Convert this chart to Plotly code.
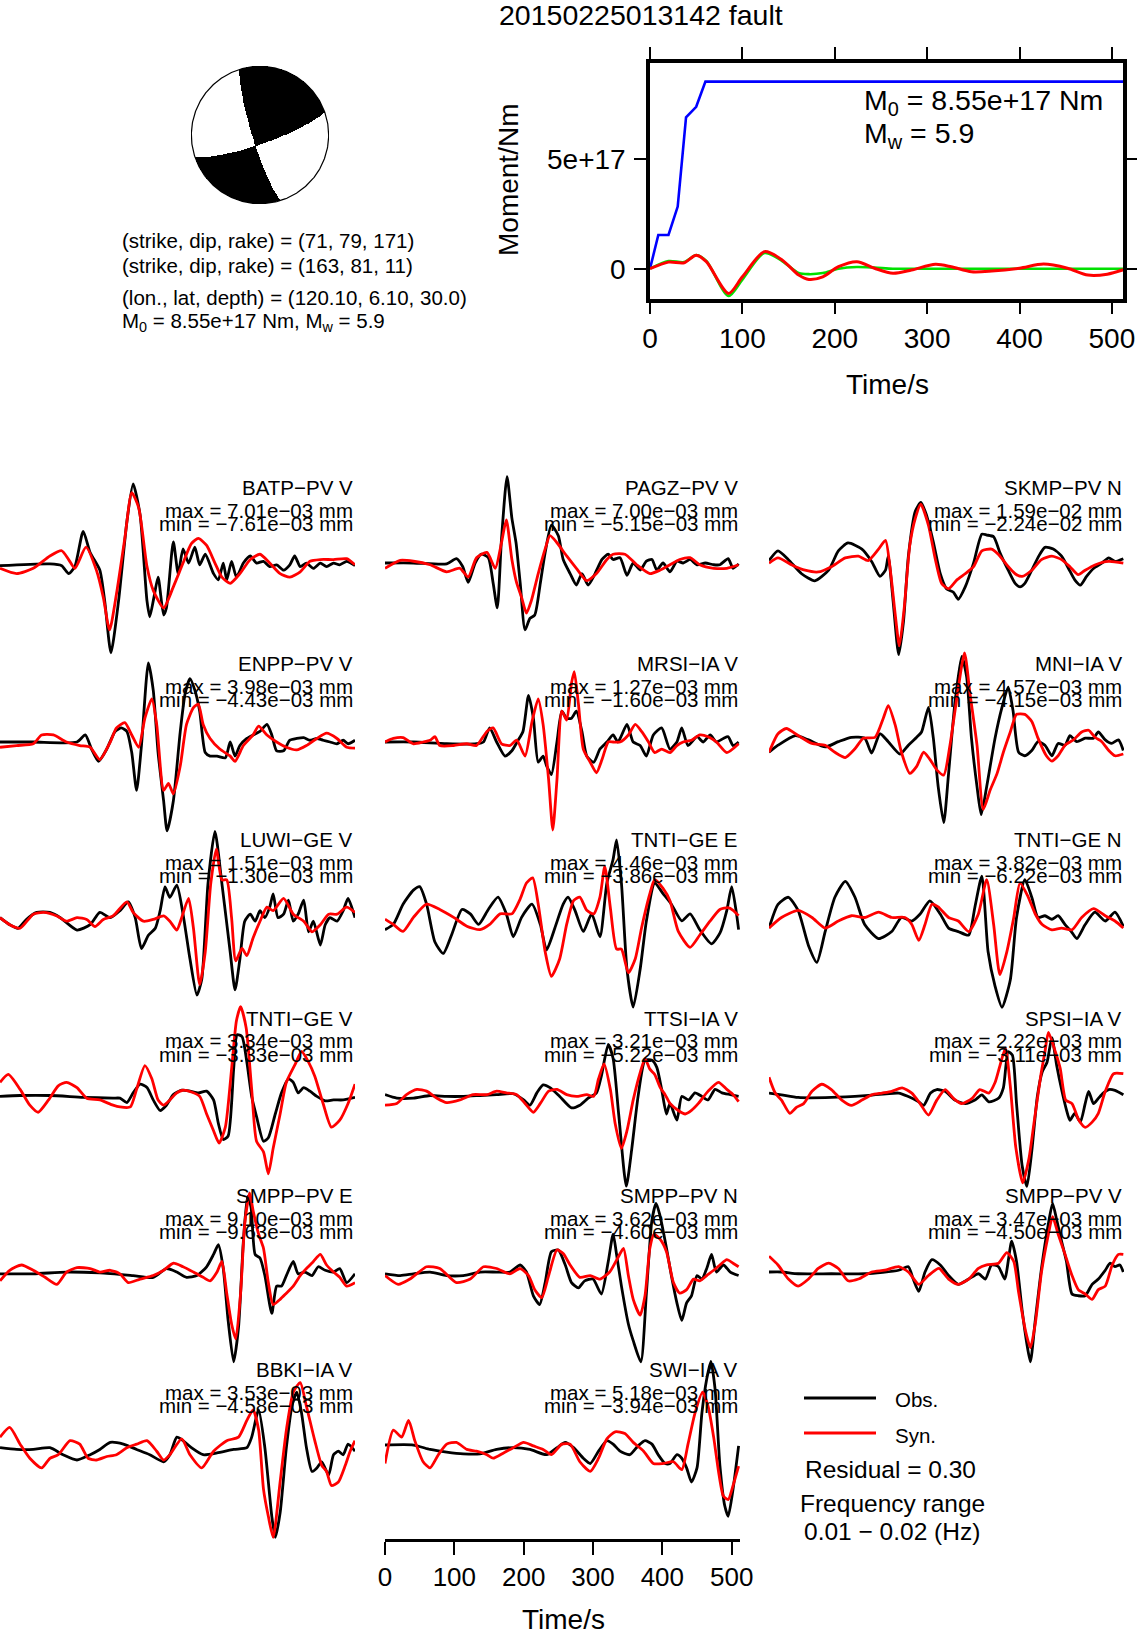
import numpy as np
import plotly.graph_objects as go

W, H = 1137, 1635
FONT = "Liberation Sans"

# ---------------- event data ----------------
event_title = "20150225013142 fault"
plane1 = [71, 79, 171]
plane2 = [163, 81, 11]
lon_lat_depth = ["120.10", "6.10", "30.0"]
m0_text = "8.55e+17"
mw_text = "5.9"
residual_text = "0.30"
freq_band = ["0.01", "0.02"]
time_ticks = [0, 100, 200, 300, 400, 500]

# cumulative moment (Nm) and moment-rate style curves
moment_t = [0, 9, 20, 30, 39, 50, 60, 512]
moment_v = [0, 1.54e17, 1.54e17, 2.84e17, 6.92e17, 7.40e17, 8.55e17, 8.55e17]
rate_red_t = [0, 20, 37, 50, 61, 85, 100, 124, 143, 161, 172, 187, 204, 224, 243, 263, 283, 309, 326, 348, 370, 400, 426, 452, 474, 495, 512]
rate_red_v = [0, 0.30e17, 0.27e17, 0.62e17, 0.32e17, -1.13e17, -0.37e17, 0.78e17, 0.40e17, -0.29e17, -0.49e17, -0.37e17, 0.09e17, 0.32e17, 0.02e17, -0.21e17, -0.06e17, 0.20e17, 0.09e17, -0.14e17, -0.11e17, 0.02e17, 0.21e17, 0.02e17, -0.29e17, -0.25e17, -0.05e17]
rate_green_t = [0, 20, 37, 50, 61, 85, 100, 124, 143, 161, 172, 187, 204, 224, 243, 263, 283, 512]
rate_green_v = [0, 0.35e17, 0.30e17, 0.62e17, 0.35e17, -1.25e17, -0.50e17, 0.72e17, 0.35e17, -0.20e17, -0.25e17, -0.20e17, 0, 0.08e17, 0.05e17, 0, 0, 0]

# ---------------- waveform data (normalised amplitude) ----------------
BATP_obs_t = [0,72,89,99,108,120,130,144,151,160,171,183,192,202,212,216,222,228,236,240,250,257,264,272,281,288,296,308,315,322,327,334,341,351,361,370,380,389,399,409,418,425,433,442,452,462,471,481,490,500,512]
BATP_obs_v = [0,0.02,0,-0.09,-0.01,0.39,0.15,-0.05,-0.40,-0.99,-0.40,0.50,0.93,0.58,-0.40,-0.58,-0.36,-0.13,-0.56,-0.48,0.27,-0.09,0.19,0.03,0.21,0.01,0.13,-0.09,-0.16,0.03,-0.16,0.05,-0.13,0.03,0.11,0.03,0.05,-0.01,0.01,-0.05,0.01,0.11,-0.01,0.03,-0.03,0.03,-0.01,0.03,0.01,0.05,0]
BATP_syn_t = [0,24,48,72,89,99,108,124,139,149,158,168,180,190,200,212,221,236,250,264,276,286,298,310,320,332,346,361,375,389,404,418,433,447,462,481,500,512]
BATP_syn_v = [-0.03,-0.09,-0.03,0.11,0.17,0.07,-0.03,0.21,-0.05,-0.36,-0.73,-0.32,0.31,0.83,0.66,-0.01,-0.28,-0.48,-0.24,0.03,0.25,0.31,0.23,0.03,-0.13,-0.20,-0.09,0.07,0.13,0.03,-0.09,-0.13,-0.07,0.05,0.07,0.07,0.08,0.01]

PAGZ_obs_t = [0,41,89,103,112,120,130,139,149,156,162,168,176,183,189,195,202,209,216,224,231,240,250,257,267,276,284,293,303,313,322,329,339,349,358,368,377,385,392,401,411,421,430,440,450,462,474,483,495,502,510]
PAGZ_obs_v = [0,0,-0.01,0.05,-0.04,-0.22,0,0.10,0.06,-0.23,-0.51,0.27,0.98,0.51,0.23,-0.23,-0.76,-0.63,-0.59,-0.23,0.12,0.43,0.31,0.04,-0.12,-0.25,-0.12,-0.25,-0.12,0.04,0.10,0.04,0.06,-0.14,0,-0.08,0.02,0.04,-0.08,0,-0.10,0.02,0,0.04,-0.02,0,-0.02,-0.02,0.05,-0.06,-0.01]
PAGZ_syn_t = [0,22,41,65,89,108,120,132,147,159,168,175,183,190,197,204,211,221,231,238,248,262,276,291,305,320,329,346,363,382,397,411,425,440,454,474,493,510]
PAGZ_syn_v = [-0.06,0.03,0.02,-0.02,-0.10,-0.06,-0.16,0.06,0.12,-0.06,0.23,0.49,0.04,-0.23,-0.39,-0.57,-0.43,-0.12,0.16,0.31,0.23,0.08,-0.06,-0.20,-0.12,0.04,0.10,0.10,-0.02,-0.12,-0.08,-0.02,0.04,0.06,-0.02,-0.06,-0.06,-0.02]

SKMP_obs_t = [0,13,28,47,66,86,100,114,134,148,160,168,172,179,187,194,201,211,219,227,237,247,256,266,273,283,295,307,314,324,333,345,355,362,369,379,389,398,410,422,432,441,449,458,468,480,490,499,511]
SKMP_obs_v = [0.02,0.13,0.03,-0.13,-0.21,-0.09,0.13,0.22,0.15,0.01,-0.16,-0.09,0.07,-0.44,-1.05,-0.67,0.07,0.58,0.68,0.54,0.23,-0.13,-0.30,-0.34,-0.42,-0.28,-0.01,0.32,0.31,0.29,0.11,-0.09,-0.24,-0.28,-0.24,-0.09,0.07,0.17,0.15,0.07,-0.07,-0.20,-0.26,-0.16,-0.07,-0.01,0.05,0.01,0.04]
SKMP_syn_t = [0,13,33,52,71,90,110,129,143,158,168,175,182,188,195,203,211,219,230,240,249,259,271,283,295,307,321,331,343,355,365,379,393,408,422,434,446,456,470,490,511]
SKMP_syn_v = [-0.01,0.05,-0.03,-0.09,-0.11,-0.05,0.05,0.07,0.02,0.15,0.25,-0.09,-0.59,-0.95,-0.52,0.19,0.50,0.66,0.42,0.03,-0.24,-0.30,-0.20,-0.13,-0.05,0.13,0.15,0.09,-0.03,-0.13,-0.16,-0.09,0.03,0.07,0.03,-0.05,-0.14,-0.09,-0.03,0.01,-0.01]

ENPP_obs_t = [0,48,111,123,132,142,154,166,175,183,190,197,204,214,221,228,236,241,250,260,267,274,281,288,296,303,313,325,332,339,346,356,365,375,385,392,399,409,418,428,438,447,457,466,476,486,495,502,512]
ENPP_obs_v = [0,0,0,0.08,-0.08,-0.22,-0.08,0.12,0.16,0.12,-0.12,-0.55,-0.04,0.90,0.59,-0.12,-0.67,-1.01,-0.67,0.12,0.55,0.72,0.59,0.35,-0.12,-0.16,-0.16,-0.18,0,-0.16,-0.04,0.04,0.08,0.12,0.20,0.08,-0.10,-0.10,0.02,0.04,0.05,0.02,0.04,0.02,0,-0.02,0.02,-0.02,0.02]
ENPP_syn_t = [0,24,48,60,77,96,115,130,144,159,168,180,190,200,209,219,226,236,243,250,260,269,279,286,293,303,317,332,339,351,365,373,385,399,413,428,442,457,471,486,500,512]
ENPP_syn_v = [-0.06,-0.04,-0.02,0.08,0.08,0,-0.04,-0.06,-0.20,0,0.16,0.22,0.08,-0.06,0.27,0.49,0.20,-0.55,-0.47,-0.59,-0.27,0.20,0.39,0.43,0.20,0.04,-0.08,-0.16,-0.22,-0.04,0.08,0.18,0.08,0,-0.06,-0.09,-0.04,0.04,0.10,0.04,-0.06,-0.07]

MRSI_obs_t = [0,41,89,132,142,151,161,173,183,192,199,207,214,221,228,233,240,248,255,262,269,276,284,291,301,310,320,329,336,349,358,368,377,387,399,411,421,428,437,450,459,469,478,488,495,502,510]
MRSI_obs_v = [0,0,-0.02,-0.02,0,0.16,0,-0.16,-0.10,0.02,0.12,0.53,0.27,-0.23,-0.16,-0.27,-0.37,0,0.35,0.27,0.27,0.35,0.12,-0.16,-0.23,-0.08,0,0.08,0,0.20,0,-0.04,-0.16,0.08,0.16,-0.08,0,0.16,-0.04,0.06,0,0.08,0,0.04,0.06,-0.04,0]
MRSI_syn_t = [0,12,26,41,55,65,72,79,99,118,132,147,156,168,180,190,202,212,221,228,236,242,248,255,262,269,273,279,286,296,305,313,322,329,339,351,361,370,380,389,399,411,421,430,442,454,466,478,493,510]
MRSI_syn_v = [0,0.04,0.05,-0.02,0,0.02,0.06,-0.04,-0.04,-0.02,-0.04,0.12,0.16,-0.02,-0.04,0.02,-0.16,0.23,0.49,0.20,-0.43,-1.00,-0.43,0.35,0.25,0.67,0.80,0.43,-0.08,-0.23,-0.35,-0.20,0,0,0,0.08,0.20,0.12,0,-0.12,-0.08,-0.12,-0.04,0,0.02,0.08,0.06,0,-0.12,-0.02]

MNI_obs_t = [0,13,38,57,81,100,119,138,148,160,172,189,201,213,220,230,237,244,252,259,268,278,285,292,300,306,314,326,336,345,352,360,369,379,388,398,408,417,427,434,444,456,468,475,485,494,504,511]
MNI_obs_v = [-0.03,0.05,0.16,0.11,0.03,0.09,0.14,0.13,-0.04,0.18,0.09,-0.05,0.05,0.14,0.20,0.48,0.13,-0.42,-0.83,-0.27,0.52,1.06,0.83,0.13,-0.42,-0.74,-0.42,0.13,0.48,0.71,0.44,-0.03,-0.07,-0.01,0.09,0.05,-0.07,0.07,0.05,0.16,0.09,0.13,0.13,0.20,0.11,0.07,0.11,-0.01]
MNI_syn_t = [0,13,25,42,62,81,95,110,124,136,153,165,172,182,191,203,213,223,232,242,252,261,271,282,290,300,309,319,329,338,348,357,369,379,388,400,408,417,427,439,451,461,470,480,490,499,511]
MNI_syn_v = [-0.03,0.18,0.24,0.16,0.07,0.05,-0.03,-0.09,0.01,0.13,0.14,0.36,0.50,0.28,-0.03,-0.27,-0.19,-0.03,-0.11,-0.23,-0.29,0.05,0.59,1.10,0.63,0.05,-0.68,-0.46,-0.27,-0.03,0.20,0.40,0.40,0.32,0.13,-0.07,-0.13,-0.07,0.05,0.11,0.20,0.22,0.14,0.09,-0.01,-0.07,-0.05]

LUWI_obs_t = [0,14,26,38,53,72,87,111,130,144,159,173,185,195,204,214,224,231,238,245,255,264,274,284,291,300,310,320,332,339,346,353,361,368,375,382,389,394,401,409,416,423,430,438,445,452,462,469,476,486,495,502,512]
LUWI_obs_v = [0,-0.08,-0.12,-0.02,0.06,0.06,0,-0.14,-0.08,0.06,0,0.08,0.18,0,-0.35,-0.20,-0.12,0.08,0.35,0.23,0.37,0.04,-0.47,-0.88,-0.70,0.39,0.98,0.39,-0.39,-0.82,-0.47,-0.04,0.04,-0.04,0.08,0,0.12,0.27,0,0.04,0.20,-0.04,0.04,0.20,-0.16,-0.04,-0.31,-0.08,0,-0.04,0.08,0.22,0]
LUWI_syn_t = [0,14,29,48,63,82,96,111,125,137,149,163,183,192,207,221,236,245,255,262,272,279,288,296,304,312,320,327,334,340,349,356,365,375,385,394,409,423,438,450,462,474,486,500,512]
LUWI_syn_v = [0,-0.08,-0.12,0.04,0.06,0.02,-0.04,0,-0.02,-0.10,-0.02,0.02,0.18,0.06,-0.04,-0.02,0.02,-0.04,-0.14,0,0.22,-0.12,-0.76,-0.39,0.39,0.78,0.43,0.43,0,-0.49,-0.35,-0.43,-0.23,-0.04,0.12,0.08,0.22,0.04,-0.04,-0.16,-0.08,0.04,0.04,0.12,0.06]

TNTIE_obs_t = [0,12,26,41,50,60,72,84,96,111,123,135,149,163,175,185,197,212,224,233,245,257,264,274,286,298,310,320,329,334,341,349,358,368,377,389,401,413,428,440,454,471,483,493,500,507,510]
TNTIE_obs_v = [0,0.06,0.29,0.45,0.49,0.29,-0.14,-0.27,-0.06,0.23,0.18,0.06,0.23,0.37,0.18,-0.08,0.14,0.29,0.06,-0.23,0.02,0.29,0.37,0.22,-0.02,0.18,-0.08,0.53,0.80,1.02,0.53,-0.45,-0.88,-0.45,0.10,0.53,0.41,0.29,0.10,0.18,0,-0.16,-0.04,0.22,0.49,0.18,0]
TNTIE_syn_t = [0,12,26,41,60,79,99,118,137,151,166,183,195,204,213,221,231,240,252,262,272,281,291,301,310,317,325,334,341,351,361,370,382,389,401,411,423,440,454,469,483,495,502,510]
TNTIE_syn_v = [0.12,0.06,-0.02,0.14,0.29,0.23,0.14,0.04,0,0.06,0.18,0.18,0.35,0.53,0.59,0.29,-0.25,-0.53,-0.33,0.06,0.33,0.37,0.22,0.18,0.37,0.72,0.25,-0.22,-0.22,-0.49,-0.33,0.02,0.41,0.57,0.47,0.33,-0.02,-0.20,-0.06,0.10,0.23,0.25,0.22,0.16]

TNTIN_obs_t = [0,13,28,42,57,69,81,95,110,124,138,158,177,191,206,218,232,247,259,273,288,297,307,316,326,336,348,357,369,379,388,398,408,417,427,436,444,456,470,485,499,511]
TNTIN_obs_v = [-0.02,0.25,0.33,0.18,-0.22,-0.41,-0.06,0.33,0.51,0.33,0.02,-0.14,-0.06,0.10,0.06,0.14,0.29,0.14,-0.02,-0.06,-0.10,0.22,0.57,-0.29,-0.68,-0.92,-0.61,0.10,0.53,0.33,0.10,0.12,0.08,0.12,0.02,-0.06,-0.14,0.02,0.16,0.06,0.16,0]
TNTIN_syn_t = [0,18,42,62,81,100,119,138,158,177,196,206,216,225,235,244,259,273,288,302,314,324,333,343,353,362,374,384,394,408,422,437,451,468,485,499,511]
TNTIN_syn_v = [-0.02,0.10,0.18,0.10,-0.02,0.06,0.12,0.10,0.16,0.10,0.10,0.02,-0.16,0.02,0.25,0.22,0.10,0.06,-0.06,0.14,0.53,0.02,-0.55,-0.29,0.10,0.49,0.33,0.14,0.02,-0.04,-0.02,-0.04,0.10,0.20,0.12,0.06,-0.02]

TNTIV_obs_t = [0,29,72,120,163,173,183,192,202,212,221,231,240,250,262,274,286,298,308,315,322,329,337,342,349,356,363,370,380,387,397,406,416,423,430,438,447,457,469,481,495,512]
TNTIV_obs_v = [0,0.01,0.01,-0.01,-0.02,-0.02,-0.07,0.04,0.14,0.10,-0.04,-0.16,-0.10,0.02,0.07,0.06,0.04,0.06,-0.04,-0.31,-0.49,-0.45,0.31,0.70,0.68,0.39,0,-0.23,-0.51,-0.47,-0.20,0.04,0.20,0.16,0.04,0.10,0.06,0,-0.05,-0.04,-0.04,-0.01]
TNTIV_syn_t = [0,12,29,43,55,70,84,96,111,125,144,163,173,188,197,209,219,228,236,245,255,264,276,288,298,308,316,325,334,341,347,355,363,370,380,387,394,404,413,426,435,445,454,466,478,490,502,512]
TNTIV_syn_v = [0.16,0.25,0.08,-0.10,-0.18,-0.04,0.12,0.16,0.10,-0.02,-0.04,-0.10,-0.12,-0.12,0.08,0.35,0.20,-0.04,-0.10,-0.04,0.04,0.07,0.05,0,-0.20,-0.39,-0.53,-0.35,0.31,0.86,1.02,0.78,0.08,-0.51,-0.63,-0.88,-0.59,-0.20,0.16,0.37,0.51,0.39,0.23,-0.08,-0.35,-0.27,-0.08,0.14]

TTSI_obs_t = [0,17,41,65,89,113,137,161,185,200,209,219,228,238,252,269,281,293,305,312,322,329,337,348,356,365,375,385,392,399,406,411,421,428,438,447,457,466,476,486,498,510]
TTSI_obs_v = [0.02,-0.02,-0.02,0.01,0,0,0.01,0.02,0.03,-0.04,-0.10,0.04,0.13,0.10,0,-0.13,-0.10,-0.02,0.04,0.23,0.59,0.43,-0.20,-1.02,-0.59,0,0.41,0.41,0.33,0.08,-0.20,-0.08,-0.27,0,-0.04,0.04,0,-0.04,0.08,0.04,0.02,0]
TTSI_syn_t = [0,17,31,46,60,75,89,108,127,147,161,175,190,202,214,224,236,248,262,276,291,301,308,316,325,332,341,349,358,368,375,382,389,397,404,411,423,433,442,452,466,481,493,502,510]
TTSI_syn_v = [-0.10,-0.08,0.02,0.08,0.06,-0.02,-0.07,-0.04,0.02,0.02,0.06,0.04,0.02,-0.08,-0.18,-0.08,0.06,0.08,0.02,0,0.02,0,0.20,0.37,0.08,-0.31,-0.59,-0.39,-0.04,0.27,0.43,0.31,0.25,0.10,0.02,-0.08,-0.16,-0.20,-0.16,-0.08,0.06,0.16,0.08,0.02,-0.06]

SPSI_obs_t = [0,18,42,90,139,187,201,216,223,233,242,254,268,283,297,307,317,331,338,345,351,357,365,372,379,387,394,401,408,415,422,429,434,441,449,456,461,468,475,482,490,499,511]
SPSI_obs_v = [0.03,0.01,-0.02,-0.02,0,0.03,-0.01,-0.07,-0.11,0.03,0.07,0.05,-0.05,-0.09,-0.05,0.01,-0.07,-0.03,0.09,0.50,0.46,-0.09,-0.79,-1.03,-0.63,-0.01,0.27,0.38,0.66,0.34,0.07,-0.16,-0.28,-0.20,-0.30,-0.09,0.05,-0.09,-0.03,0.03,0.07,0.06,0.01]
SPSI_syn_t = [0,9,18,30,40,50,62,76,90,105,119,134,148,163,177,192,206,218,230,242,254,266,278,293,304,317,326,333,341,348,356,366,375,382,392,398,403,413,420,428,437,447,456,466,475,485,497,511]
SPSI_syn_v = [0.21,0.03,-0.05,-0.20,-0.13,-0.09,0.05,0.13,0.07,-0.05,-0.11,-0.05,0.01,0.03,0.05,0.09,0.03,-0.09,-0.22,-0.05,0.07,-0.03,-0.09,-0.03,0.07,0.03,0.15,0.34,0.54,0.11,-0.59,-0.99,-0.71,-0.32,0.23,0.50,0.72,0.50,0.31,-0.05,-0.09,-0.28,-0.36,-0.30,-0.20,0.05,0.25,0.25]

SMPPE_obs_t = [0,48,96,144,192,221,240,255,269,284,298,308,315,322,329,337,344,351,357,362,368,375,382,392,399,406,413,423,430,440,450,459,469,481,490,500,512]
SMPPE_obs_v = [0,0,0.02,0.01,-0.02,-0.04,0.06,0.02,-0.04,-0.02,0.08,0.22,0.33,0.06,-0.53,-1.00,-0.61,0.37,0.88,0.76,0.22,0.18,-0.02,-0.45,-0.14,-0.14,-0.02,0.14,0,0.02,-0.02,0.08,0.04,0.02,0.06,-0.10,0]
SMPPE_syn_t = [0,14,31,48,65,82,96,111,130,144,159,173,185,202,221,236,250,264,279,293,303,313,320,327,334,340,347,353,360,365,373,380,387,394,404,413,423,433,442,452,462,471,481,490,500,512]
SMPPE_syn_v = [-0.08,0.04,0.10,0.04,-0.04,-0.12,0.02,0.07,0.06,0.02,0.04,0,-0.10,-0.06,-0.02,0.04,0.12,0.08,0.02,-0.04,-0.08,0.02,0.14,-0.22,-0.57,-0.74,-0.22,0.57,0.92,0.72,0.45,0.29,-0.10,-0.35,-0.29,-0.22,-0.14,-0.02,0.06,0.14,0.22,0.10,0.02,-0.04,-0.14,-0.10]

SMPPN_obs_t = [0,22,41,65,89,113,137,161,180,195,204,214,223,231,240,250,260,269,279,288,300,312,322,329,334,341,351,358,369,377,385,391,396,406,413,421,428,435,442,450,457,464,471,478,488,498,510]
SMPPN_obs_v = [0,-0.02,0,0.02,-0.02,-0.02,0.02,0.02,0.02,0.10,0.02,-0.25,-0.35,-0.10,0.25,0.27,0.10,-0.10,-0.16,-0.08,-0.06,-0.23,0.14,0.45,0.22,-0.14,-0.57,-0.76,-1.00,-0.22,0.61,0.80,0.68,0.29,-0.02,-0.33,-0.53,-0.33,-0.25,-0.02,-0.06,0.06,0.22,0.02,0.10,0.02,-0.02]
SMPPN_syn_t = [0,19,36,60,79,103,123,142,161,180,195,207,216,226,236,248,257,267,281,296,310,324,337,344,351,358,368,375,382,388,397,406,416,425,435,445,454,464,474,483,493,502,510]
SMPPN_syn_v = [-0.02,-0.12,-0.06,0.08,0.06,-0.10,-0.06,0.08,0.06,0,0.06,-0.02,-0.18,-0.27,-0.02,0.27,0.23,0.10,-0.04,-0.02,-0.06,0.02,0.20,0.29,-0.02,-0.29,-0.47,-0.25,0.29,0.45,0.39,0.25,-0.10,-0.22,-0.18,-0.06,-0.08,-0.02,0.04,0.10,0.16,0.12,0.08]

SMPPV_obs_t = [0,18,42,90,139,187,201,208,216,225,235,247,259,273,288,302,312,321,331,340,350,357,365,372,377,384,393,403,409,415,422,429,437,446,456,466,475,485,492,499,506,511]
SMPPV_obs_v = [0,0,-0.02,-0.02,-0.02,0.02,0.06,-0.08,-0.22,0,0.14,0.08,-0.04,-0.14,-0.08,-0.02,-0.08,0.08,0.06,-0.08,0.35,0.12,-0.43,-0.82,-1.02,-0.55,0.04,0.55,0.78,0.59,0.35,0.12,-0.25,-0.27,-0.27,-0.14,-0.08,0.02,0.10,0.06,0.08,0]
SMPPV_syn_t = [0,13,28,42,57,71,86,100,114,129,148,167,187,201,216,230,245,259,273,288,302,314,331,343,353,360,370,377,384,393,402,409,417,427,437,446,456,466,475,485,495,504,511]
SMPPV_syn_v = [0.18,0.08,-0.08,-0.16,-0.08,0.04,0.10,0.04,-0.10,-0.08,0,0.02,0.06,0,-0.14,-0.04,0.04,-0.08,-0.14,-0.08,0.04,0.08,0.10,0.22,0.12,-0.23,-0.67,-0.86,-0.59,0,0.39,0.63,0.43,0.20,-0.04,-0.20,-0.25,-0.31,-0.20,-0.16,0.08,0.20,0.20]

BBKI_obs_t = [0,24,48,72,91,111,130,144,159,178,197,216,236,245,255,264,276,293,313,337,356,363,373,382,392,397,404,413,421,428,435,442,450,457,464,474,481,488,495,502,512]
BBKI_obs_v = [0,-0.02,-0.02,0,-0.08,-0.14,-0.08,-0.02,0.06,0.04,-0.02,-0.08,-0.16,-0.08,0.12,0.08,0,-0.08,-0.06,-0.02,0,0.12,0.43,0,-0.78,-1.02,-0.74,0,0.47,0.63,0.39,0,-0.27,-0.23,-0.16,-0.31,-0.08,-0.04,-0.08,0.04,-0.04]
BBKI_syn_t = [0,14,29,43,60,72,84,101,115,127,139,154,168,183,197,212,226,236,245,262,274,291,308,327,344,356,365,373,380,387,394,404,413,423,433,442,454,464,471,478,488,498,505,512]
BBKI_syn_v = [0.12,0.23,0.04,-0.12,-0.23,-0.12,-0.08,0.08,0.04,-0.12,-0.14,-0.10,-0.08,0,0.04,0.08,-0.04,-0.14,-0.08,0.10,-0.08,-0.23,-0.04,0.08,0.12,0.31,0.43,0.20,-0.47,-0.78,-1.02,-0.39,0.20,0.63,0.74,0.47,0.08,-0.20,-0.27,-0.43,-0.39,-0.20,-0.04,0.08]

SWI_obs_t = [0,41,65,89,113,137,161,185,209,233,248,260,272,286,296,308,320,329,339,353,365,375,385,394,404,411,421,428,435,442,450,457,464,470,476,483,490,495,502,510]
SWI_obs_v = [0.01,0.01,-0.04,-0.07,-0.09,-0.09,-0.04,-0.02,-0.04,-0.10,-0.02,0.04,-0.02,-0.14,-0.20,-0.06,0.06,0.02,-0.06,-0.10,0,0.06,0.02,-0.10,-0.20,-0.20,-0.10,-0.14,-0.25,-0.41,-0.25,0.37,0.76,0.96,0.65,-0.22,-0.68,-0.80,-0.49,0]
SWI_syn_t = [0,12,24,34,43,55,65,77,89,103,118,132,147,156,171,185,200,214,228,240,255,267,281,296,308,320,332,346,358,373,387,401,416,428,437,447,458,466,474,481,488,495,502,510]
SWI_syn_v = [-0.20,0.18,0.10,0.29,0.06,-0.18,-0.25,-0.10,0.02,0.04,-0.04,-0.06,-0.10,-0.14,-0.08,-0.02,0.04,0,-0.04,-0.10,0.02,0.02,-0.18,-0.29,-0.14,0.08,0.16,0.14,0.04,-0.06,-0.20,-0.20,-0.18,-0.27,0.02,0.37,0.61,0.45,0.10,-0.29,-0.57,-0.61,-0.45,-0.23]

station_names = ["BATP−PV V", "PAGZ−PV V", "SKMP−PV N",
                 "ENPP−PV V", "MRSI−IA V", "MNI−IA V",
                 "LUWI−GE V", "TNTI−GE E", "TNTI−GE N",
                 "TNTI−GE V", "TTSI−IA V", "SPSI−IA V",
                 "SMPP−PV E", "SMPP−PV N", "SMPP−PV V",
                 "BBKI−IA V", "SWI−IA V"]
station_max = ["7.01e−03", "7.00e−03", "1.59e−02",
               "3.98e−03", "1.27e−03", "4.57e−03",
               "1.51e−03", "4.46e−03", "3.82e−03",
               "3.34e−03", "3.21e−03", "2.22e−03",
               "9.10e−03", "3.62e−03", "3.47e−03",
               "3.53e−03", "5.18e−03"]
station_min = ["−7.61e−03", "−5.15e−03", "−2.24e−02",
               "−4.43e−03", "−1.60e−03", "−4.15e−03",
               "−1.30e−03", "−3.86e−03", "−6.22e−03",
               "−3.33e−03", "−5.22e−03", "−3.11e−03",
               "−9.63e−03", "−4.60e−03", "−4.50e−03",
               "−4.58e−03", "−3.94e−03"]
obs_t = [BATP_obs_t, PAGZ_obs_t, SKMP_obs_t, ENPP_obs_t, MRSI_obs_t, MNI_obs_t,
         LUWI_obs_t, TNTIE_obs_t, TNTIN_obs_t, TNTIV_obs_t, TTSI_obs_t, SPSI_obs_t,
         SMPPE_obs_t, SMPPN_obs_t, SMPPV_obs_t, BBKI_obs_t, SWI_obs_t]
obs_v = [BATP_obs_v, PAGZ_obs_v, SKMP_obs_v, ENPP_obs_v, MRSI_obs_v, MNI_obs_v,
         LUWI_obs_v, TNTIE_obs_v, TNTIN_obs_v, TNTIV_obs_v, TTSI_obs_v, SPSI_obs_v,
         SMPPE_obs_v, SMPPN_obs_v, SMPPV_obs_v, BBKI_obs_v, SWI_obs_v]
syn_t = [BATP_syn_t, PAGZ_syn_t, SKMP_syn_t, ENPP_syn_t, MRSI_syn_t, MNI_syn_t,
         LUWI_syn_t, TNTIE_syn_t, TNTIN_syn_t, TNTIV_syn_t, TTSI_syn_t, SPSI_syn_t,
         SMPPE_syn_t, SMPPN_syn_t, SMPPV_syn_t, BBKI_syn_t, SWI_syn_t]
syn_v = [BATP_syn_v, PAGZ_syn_v, SKMP_syn_v, ENPP_syn_v, MRSI_syn_v, MNI_syn_v,
         LUWI_syn_v, TNTIE_syn_v, TNTIN_syn_v, TNTIV_syn_v, TTSI_syn_v, SPSI_syn_v,
         SMPPE_syn_v, SMPPN_syn_v, SMPPV_syn_v, BBKI_syn_v, SWI_syn_v]

# ---------------- layout geometry (pixels) ----------------
col_left = [0, 385, 769]
panel_w = 355
panel_base = [565.7, 563.0, 562.3, 742.0, 742.0, 749.6, 917.7, 929.7, 926.3,
              1096.4, 1096.4, 1095.7, 1273.8, 1273.8, 1272.0, 1447.7, 1445.9]
row_ref = [565.7, 742.0, 917.7, 1096.4, 1273.8, 1447.7]
AMP_PX = 88.0
HALF_PX = 120.0
bottom_axis_px = 1539.0


def xp(px):
    return px / W


def yp(py):
    return 1 - py / H


fig = go.Figure()
layout = dict(width=W, height=H, autosize=False,
              margin=dict(l=0, r=0, t=0, b=0, pad=0, autoexpand=False),
              paper_bgcolor="white", plot_bgcolor="rgba(0,0,0,0)", showlegend=False)
annotations = []
shapes = []
counter = [0]


def add_axes(xdom, ydom, xr, yr, xextra=None, yextra=None):
    counter[0] += 1
    n = counter[0]
    s = "" if n == 1 else str(n)
    xa = dict(domain=xdom, range=xr, visible=False, fixedrange=True, anchor="y" + s,
              showgrid=False, zeroline=False, automargin=False)
    ya = dict(domain=ydom, range=yr, visible=False, fixedrange=True, anchor="x" + s,
              showgrid=False, zeroline=False, automargin=False)
    if xextra:
        xa.update(xextra)
    if yextra:
        ya.update(yextra)
    layout["xaxis" + s] = xa
    layout["yaxis" + s] = ya
    return "x" + s, "y" + s


def ann(text, x, y, size, xanchor="center", yanchor="middle", **kw):
    annotations.append(dict(text=text, x=xp(x), y=yp(y), xref="paper", yref="paper",
                            showarrow=False, xanchor=xanchor, yanchor=yanchor,
                            font=dict(family=FONT, size=size, color="black"), **kw))


# ---------------- beachball ----------------
def moment_tensor(strike, dip, rake):
    s, d, r = np.radians([strike, dip, rake])
    mxx = -(np.sin(d) * np.cos(r) * np.sin(2 * s) + np.sin(2 * d) * np.sin(r) * np.sin(s) ** 2)
    myy = np.sin(d) * np.cos(r) * np.sin(2 * s) - np.sin(2 * d) * np.sin(r) * np.cos(s) ** 2
    mzz = np.sin(2 * d) * np.sin(r)
    mxy = np.sin(d) * np.cos(r) * np.cos(2 * s) + 0.5 * np.sin(2 * d) * np.sin(r) * np.sin(2 * s)
    mxz = -(np.cos(d) * np.cos(r) * np.cos(s) + np.cos(2 * d) * np.sin(r) * np.sin(s))
    myz = -(np.cos(d) * np.cos(r) * np.sin(s) - np.cos(2 * d) * np.sin(r) * np.cos(s))
    return np.array([[mxx, mxy, mxz], [mxy, myy, myz], [mxz, myz, mzz]])


bb_cx, bb_cy, bb_r = 260.0, 135.0, 69.0
bx, by = add_axes([xp(bb_cx - bb_r), xp(bb_cx + bb_r)], [yp(bb_cy + bb_r), yp(bb_cy - bb_r)],
                  [-1, 1], [-1, 1])
M = moment_tensor(*plane1)
g = np.linspace(-1, 1, 301)
GX, GY = np.meshgrid(g, g)
R = np.sqrt(GX ** 2 + GY ** 2)
inc = 2 * np.arcsin(np.clip(R, 0, 1) / np.sqrt(2))
az = np.arctan2(GX, GY)
nvec = np.stack([np.sin(inc) * np.cos(az), np.sin(inc) * np.sin(az), np.cos(inc)])
amp = np.einsum("i...,ij,j...->...", nvec, M, nvec)
Z = np.where(amp > 0, 1.0, 0.0)
Z[R > 1] = np.nan
fig.add_trace(go.Heatmap(x=g, y=g, z=Z, xaxis=bx, yaxis=by, colorscale=[[0, "white"], [1, "black"]],
                         zmin=0, zmax=1, showscale=False, hoverinfo="skip"))
th = np.linspace(0, 2 * np.pi, 361)
fig.add_trace(go.Scatter(x=np.cos(th) * 0.995, y=np.sin(th) * 0.995, xaxis=bx, yaxis=by, mode="lines",
                         line=dict(color="black", width=1.2), hoverinfo="skip"))

info_lines = [
    (f"(strike, dip, rake) = ({plane1[0]}, {plane1[1]}, {plane1[2]})", 240),
    (f"(strike, dip, rake) = ({plane2[0]}, {plane2[1]}, {plane2[2]})", 265),
    (f"(lon., lat, depth) = ({lon_lat_depth[0]}, {lon_lat_depth[1]}, {lon_lat_depth[2]})", 297),
    (f"M<sub>0</sub> = {m0_text} Nm, M<sub>w</sub> = {mw_text}", 322),
]
for txt, yy in info_lines:
    ann(txt, 120, yy, 20.5, xanchor="left")

ann(event_title, 641, 15, 28.5)

# ---------------- moment function panel ----------------
tickfont_big = dict(family=FONT, size=28, color="black")
mx, my = add_axes([xp(650), xp(1123)], [yp(298.7), yp(62.7)], [0, 512], [-1.371e17, 9.415e17],
                  xextra=dict(visible=True, showline=True, linewidth=3.5, linecolor="black", mirror="ticks",
                              ticks="outside", ticklen=12, tickwidth=2, tickcolor="black",
                              tickvals=time_ticks, tickfont=tickfont_big, ticklabelstandoff=0),
                  yextra=dict(visible=True, showline=True, linewidth=3.5, linecolor="black", mirror="ticks",
                              ticks="outside", ticklen=12, tickwidth=2, tickcolor="black",
                              tickvals=[0, 5e17], ticktext=["0", "5e+17"], tickfont=tickfont_big,
                              ticklabelstandoff=3))
fig.add_trace(go.Scatter(x=moment_t, y=moment_v, xaxis=mx, yaxis=my, mode="lines",
                         line=dict(color="#0000ff", width=2.6), hoverinfo="skip"))
fig.add_trace(go.Scatter(x=rate_green_t, y=rate_green_v, xaxis=mx, yaxis=my, mode="lines",
                         line=dict(color="#00e000", width=2.6, shape="spline", smoothing=0.8), hoverinfo="skip"))
fig.add_trace(go.Scatter(x=rate_red_t, y=rate_red_v, xaxis=mx, yaxis=my, mode="lines",
                         line=dict(color="#ff0000", width=3, shape="spline", smoothing=0.8), hoverinfo="skip"))
ann(f"M<sub>0</sub> = {m0_text} Nm", 862, 102, 28.5, xanchor="left")
ann(f"M<sub>w</sub> = {mw_text}", 862, 135, 28.5, xanchor="left")
ann("Moment/Nm", 508, 180, 28, textangle=-90)
ann("Time/s", 887, 384, 28)

# ---------------- waveform panels ----------------
for i in range(len(station_names)):
    row, col = divmod(i, 3)
    left = col_left[col]
    base = panel_base[i]
    top_px = base - HALF_PX
    bot_px = base + HALF_PX
    xextra = None
    if i == 16:
        bot_px = bottom_axis_px
        xextra = dict(visible=True, showline=True, linewidth=3, linecolor="black", ticks="outside",
                      ticklen=13, tickwidth=2, tickcolor="black", tickvals=time_ticks,
                      tickfont=dict(family=FONT, size=26, color="black"), ticklabelstandoff=0)
    yr = [-(bot_px - base) / AMP_PX, (base - top_px) / AMP_PX]
    ax, ay = add_axes([xp(left), xp(left + panel_w)], [yp(bot_px), yp(top_px)], [0, 512], yr, xextra=xextra)
    fig.add_trace(go.Scatter(x=obs_t[i], y=obs_v[i], xaxis=ax, yaxis=ay, mode="lines",
                             line=dict(color="black", width=2.8, shape="spline", smoothing=0.6),
                             hoverinfo="skip"))
    fig.add_trace(go.Scatter(x=syn_t[i], y=syn_v[i], xaxis=ax, yaxis=ay, mode="lines",
                             line=dict(color="#ff0000", width=2.8, shape="spline", smoothing=0.6),
                             hoverinfo="skip"))
    rx = left + panel_w
    ref = row_ref[row]
    ann(station_names[i], rx, ref - 78, 20.5, xanchor="right")
    ann(f"max = {station_max[i]} mm", rx, ref - 55.5, 20.5, xanchor="right")
    ann(f"min = {station_min[i]} mm", rx, ref - 42, 20.5, xanchor="right")

ann("Time/s", 563, 1619, 28)

# ---------------- legend block ----------------
shapes.append(dict(type="line", xref="paper", yref="paper", x0=xp(804), x1=xp(876), y0=yp(1398), y1=yp(1398),
                   line=dict(color="black", width=2.8)))
shapes.append(dict(type="line", xref="paper", yref="paper", x0=xp(804), x1=xp(876), y0=yp(1433), y1=yp(1433),
                   line=dict(color="#ff0000", width=2.8)))
ann("Obs.", 893, 1399, 20.5, xanchor="left")
ann("Syn.", 893, 1435, 20.5, xanchor="left")
ann(f"Residual = {residual_text}", 891, 1469, 24.5)
ann("Frequency range", 892, 1503, 24.5)
ann(f"{freq_band[0]} − {freq_band[1]} (Hz)", 892, 1531, 24.5)

layout["annotations"] = annotations
layout["shapes"] = shapes
fig.update_layout(**layout)
fig.write_html("out.html", config={"displayModeBar": False},
               post_script="document.body.style.margin='0px';document.body.style.overflow='hidden';")
